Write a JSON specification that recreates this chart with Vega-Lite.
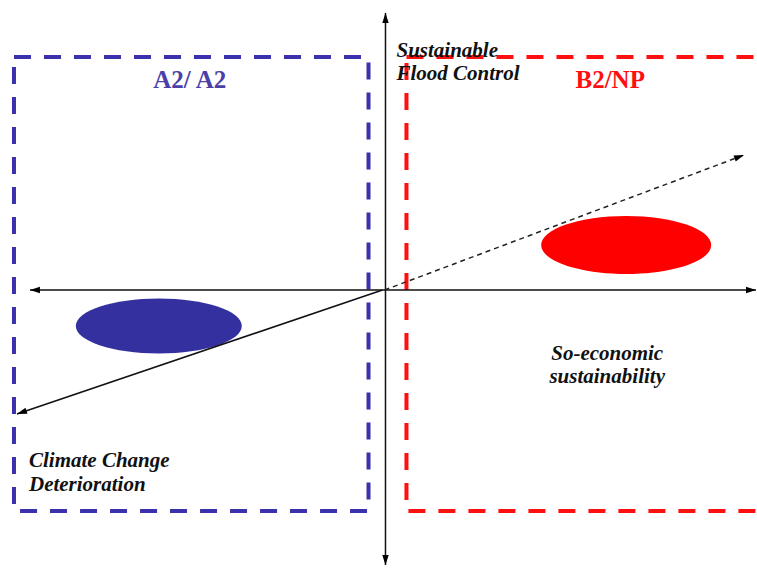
{
  "$schema": "https://vega.github.io/schema/vega-lite/v6.json",
  "width": 757,
  "height": 568,
  "padding": 0,
  "autosize": {"type": "fit", "contains": "padding"},
  "background": "white",
  "config": {"view": {"stroke": null}},
  "datasets": {
    "boxes": [
      {"box": "A2/A2", "x1": -371, "x2": -16, "y1": 233, "y2": -221},
      {"box": "B2/NP", "x1": 22, "x2": 420, "y1": 233, "y2": -221}
    ],
    "lines": [
      {"line": "horizontal axis", "style": "solid", "x1": -355, "y1": 0, "x2": 372, "y2": 0},
      {"line": "vertical axis", "style": "solid", "x1": 1, "y1": 277, "x2": 1, "y2": -275},
      {"line": "climate change", "style": "solid", "x1": -2, "y1": 0, "x2": -368, "y2": -124},
      {"line": "sustainability", "style": "dashed", "x1": 0, "y1": 0, "x2": 360, "y2": 135}
    ],
    "heads": [
      {"x": 1, "y": 277, "heading": 0},
      {"x": 1, "y": -275, "heading": 180},
      {"x": -355, "y": 0, "heading": 270},
      {"x": 372, "y": 0, "heading": 90},
      {"x": 360, "y": 135, "heading": 69.4},
      {"x": -368, "y": -124, "heading": 251.4}
    ],
    "ellipses": [
      {"scenario": "A2/A2", "x": -226, "y": -36},
      {"scenario": "B2/NP", "x": 242, "y": 45}
    ],
    "titles": [
      {"scenario": "A2/A2", "label": "A2/ A2", "x": -195, "y": 210},
      {"scenario": "B2/NP", "label": "B2/NP", "x": 226, "y": 210}
    ],
    "leftLabels": [
      {"label": "Sustainable", "x": 12, "y": 239.5},
      {"label": "Flood Control", "x": 12, "y": 216},
      {"label": "Climate Change", "x": -356, "y": -171},
      {"label": "Deterioration", "x": -356, "y": -194.5}
    ],
    "centerLabels": [
      {"label": "So-economic", "x": 223, "y": -63.5},
      {"label": "sustainability", "x": 223, "y": -87}
    ]
  },
  "layer": [
    {
      "data": {"name": "boxes"},
      "mark": {"type": "rect", "fillOpacity": 0, "strokeWidth": 4, "strokeDash": [17, 13], "clip": true},
      "encoding": {
        "x": {"field": "x1", "type": "quantitative", "scale": {"domain": [-385, 372], "nice": false, "zero": false}, "axis": null},
        "x2": {"field": "x2"},
        "y": {"field": "y1", "type": "quantitative", "scale": {"domain": [-278, 290], "nice": false, "zero": false}, "axis": null},
        "y2": {"field": "y2"},
        "stroke": {"field": "box", "type": "nominal", "scale": {"domain": ["A2/A2", "B2/NP"], "range": ["#3b31ad", "#ff1010"]}, "legend": null}
      }
    },
    {
      "data": {"name": "ellipses"},
      "transform": [{"filter": "datum.scenario === 'A2/A2'"}],
      "mark": {"type": "point", "filled": true, "opacity": 1, "color": "#35309f", "size": 27556,
        "shape": "M-1,0C-1,-0.183,-0.552,-0.331,0,-0.331C0.552,-0.331,1,-0.183,1,0C1,0.183,0.552,0.331,0,0.331C-0.552,0.331,-1,0.183,-1,0Z"},
      "encoding": {
        "x": {"field": "x", "type": "quantitative", "scale": {"domain": [-385, 372], "nice": false, "zero": false}, "axis": null},
        "y": {"field": "y", "type": "quantitative", "scale": {"domain": [-278, 290], "nice": false, "zero": false}, "axis": null}
      }
    },
    {
      "data": {"name": "ellipses"},
      "transform": [{"filter": "datum.scenario === 'B2/NP'"}],
      "mark": {"type": "point", "filled": true, "opacity": 1, "color": "#ff0000", "size": 28900,
        "shape": "M-1,0C-1,-0.188,-0.552,-0.341,0,-0.341C0.552,-0.341,1,-0.188,1,0C1,0.188,0.552,0.341,0,0.341C-0.552,0.341,-1,0.188,-1,0Z"},
      "encoding": {
        "x": {"field": "x", "type": "quantitative", "scale": {"domain": [-385, 372], "nice": false, "zero": false}, "axis": null},
        "y": {"field": "y", "type": "quantitative", "scale": {"domain": [-278, 290], "nice": false, "zero": false}, "axis": null}
      }
    },
    {
      "data": {"name": "lines"},
      "transform": [{"filter": "datum.style === 'solid'"}],
      "mark": {"type": "rule", "color": "#111111", "strokeWidth": 1.5},
      "encoding": {
        "x": {"field": "x1", "type": "quantitative", "scale": {"domain": [-385, 372], "nice": false, "zero": false}, "axis": null},
        "x2": {"field": "x2"},
        "y": {"field": "y1", "type": "quantitative", "scale": {"domain": [-278, 290], "nice": false, "zero": false}, "axis": null},
        "y2": {"field": "y2"}
      }
    },
    {
      "data": {"name": "lines"},
      "transform": [{"filter": "datum.style === 'dashed'"}],
      "mark": {"type": "rule", "color": "#222222", "strokeWidth": 1.5, "strokeDash": [5, 4]},
      "encoding": {
        "x": {"field": "x1", "type": "quantitative", "scale": {"domain": [-385, 372], "nice": false, "zero": false}, "axis": null},
        "x2": {"field": "x2"},
        "y": {"field": "y1", "type": "quantitative", "scale": {"domain": [-278, 290], "nice": false, "zero": false}, "axis": null},
        "y2": {"field": "y2"}
      }
    },
    {
      "data": {"name": "heads"},
      "mark": {"type": "point", "filled": true, "opacity": 1, "color": "#000000", "size": 64, "shape": "M0,0L-0.8,2.5L0.8,2.5Z"},
      "encoding": {
        "x": {"field": "x", "type": "quantitative", "scale": {"domain": [-385, 372], "nice": false, "zero": false}, "axis": null},
        "y": {"field": "y", "type": "quantitative", "scale": {"domain": [-278, 290], "nice": false, "zero": false}, "axis": null},
        "angle": {"field": "heading", "type": "quantitative", "scale": {"domain": [0, 360], "range": [0, 360]}}
      }
    },
    {
      "data": {"name": "titles"},
      "mark": {"type": "text", "font": "'Liberation Serif', 'DejaVu Serif', serif", "fontWeight": "bold", "fontSize": 25, "align": "center", "baseline": "middle"},
      "encoding": {
        "x": {"field": "x", "type": "quantitative", "scale": {"domain": [-385, 372], "nice": false, "zero": false}, "axis": null},
        "y": {"field": "y", "type": "quantitative", "scale": {"domain": [-278, 290], "nice": false, "zero": false}, "axis": null},
        "text": {"field": "label"},
        "color": {"field": "scenario", "type": "nominal", "scale": {"domain": ["A2/A2", "B2/NP"], "range": ["#4a40a8", "#ff0f0f"]}, "legend": null}
      }
    },
    {
      "data": {"name": "leftLabels"},
      "mark": {"type": "text", "font": "'Liberation Serif', 'DejaVu Serif', serif", "fontWeight": "bold", "fontStyle": "italic", "fontSize": 21, "align": "left", "baseline": "middle", "color": "#111111"},
      "encoding": {
        "x": {"field": "x", "type": "quantitative", "scale": {"domain": [-385, 372], "nice": false, "zero": false}, "axis": null},
        "y": {"field": "y", "type": "quantitative", "scale": {"domain": [-278, 290], "nice": false, "zero": false}, "axis": null},
        "text": {"field": "label"}
      }
    },
    {
      "data": {"name": "centerLabels"},
      "mark": {"type": "text", "font": "'Liberation Serif', 'DejaVu Serif', serif", "fontWeight": "bold", "fontStyle": "italic", "fontSize": 21, "align": "center", "baseline": "middle", "color": "#111111"},
      "encoding": {
        "x": {"field": "x", "type": "quantitative", "scale": {"domain": [-385, 372], "nice": false, "zero": false}, "axis": null},
        "y": {"field": "y", "type": "quantitative", "scale": {"domain": [-278, 290], "nice": false, "zero": false}, "axis": null},
        "text": {"field": "label"}
      }
    }
  ]
}
